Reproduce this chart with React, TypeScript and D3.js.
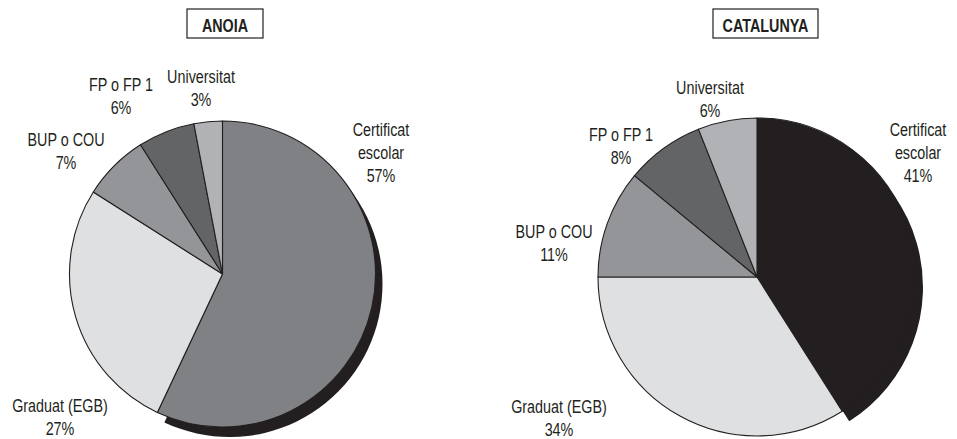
import React from "react";
import * as d3 from "d3";

// categories in drawing order (clockwise from 12 o'clock)
const categories = ["Certificat escolar", "Graduat (EGB)", "BUP o COU", "FP o FP 1", "Universitat"];
const anoiaValues = [57, 27, 7, 6, 3];
const catalunyaValues = [41, 34, 11, 8, 6];

const anoiaColors = ["#808184", "#dfe0e2", "#949598", "#636466", "#b1b2b5"];
const catalunyaColors = ["#231f20", "#dfe0e2", "#949598", "#636466", "#b1b2b5"];

const ink = "#231f20";
// no narrow font installed: use Arial metrics and squeeze horizontally
const font = "'Liberation Sans', Arial, sans-serif";
const squeeze = 0.82;

// label lines per category (last line is the percent)
const labelLines = [["Certificat", "escolar"], ["Graduat (EGB)"], ["BUP o COU"], ["FP o FP 1"], ["Universitat"]];

type Panel = {
  title: string;
  values: number[];
  colors: string[];
  cx: number;
  cy: number;
  r: number;
  box: [number, number, number, number];
  labels: [number, number][]; // x center, y of first line center
};

const panels: Panel[] = [
  {
    title: "ANOIA",
    values: anoiaValues,
    colors: anoiaColors,
    cx: 222.5,
    cy: 274,
    r: 153,
    box: [187, 9, 76, 29],
    labels: [[381, 130], [60, 406], [66, 140], [121, 85], [201, 77]],
  },
  {
    title: "CATALUNYA",
    values: catalunyaValues,
    colors: catalunyaColors,
    cx: 757,
    cy: 277,
    r: 159,
    box: [713, 9, 105, 29],
    labels: [[918, 130], [559, 407], [554, 232], [621, 135], [710, 88]],
  },
];

function PiePanel({ p }: { p: Panel }) {
  const pie = d3.pie<number>().sort(null).startAngle(0).endAngle(2 * Math.PI);
  const arcs = pie(p.values);
  const arc = d3.arc<d3.PieArcDatum<number>>().innerRadius(0).outerRadius(p.r);
  const lineH = 23;
  return (
    <g>
      <rect x={p.box[0]} y={p.box[1]} width={p.box[2]} height={p.box[3]} fill="none" stroke={ink} strokeWidth={1.2} />
      <g transform={`translate(${p.box[0] + p.box[2] / 2},${p.box[1] + 23}) scale(${squeeze},1)`}>
        <text textAnchor="middle" fontFamily={font} fontWeight="bold" fontSize={17.5} fill={ink}>
          {p.title}
        </text>
      </g>
      <g transform={`translate(${p.cx},${p.cy})`}>
        {/* shadow under the largest slice */}
        <path d={arc(arcs[0]) || ""} transform="translate(7,10)" fill={ink} />
        {arcs.map((a, i) => (
          <path key={i} d={arc(a) || ""} fill={p.colors[i]} stroke={ink} strokeWidth={1.1} strokeLinejoin="round" />
        ))}
      </g>
      {arcs.map((a, i) => {
        const lines = [...labelLines[i], `${p.values[i]}%`];
        const [lx, ly] = p.labels[i];
        return (
          <g key={i} transform={`translate(${lx},${ly}) scale(${squeeze},1)`}>
            <text textAnchor="middle" fontFamily={font} fontSize={17.5} fill={ink}>
              {lines.map((t, j) => (
                <tspan key={j} x={0} y={j * lineH} dy="0.35em">
                  {t}
                </tspan>
              ))}
            </text>
          </g>
        );
      })}
    </g>
  );
}

export default function App() {
  return (
    <svg
      width={957}
      height={439}
      style={{ position: "absolute", left: 0, top: 0, background: "#fff" }}
    >
      {panels.map((p) => (
        <PiePanel key={p.title} p={p} />
      ))}
    </svg>
  );
}
